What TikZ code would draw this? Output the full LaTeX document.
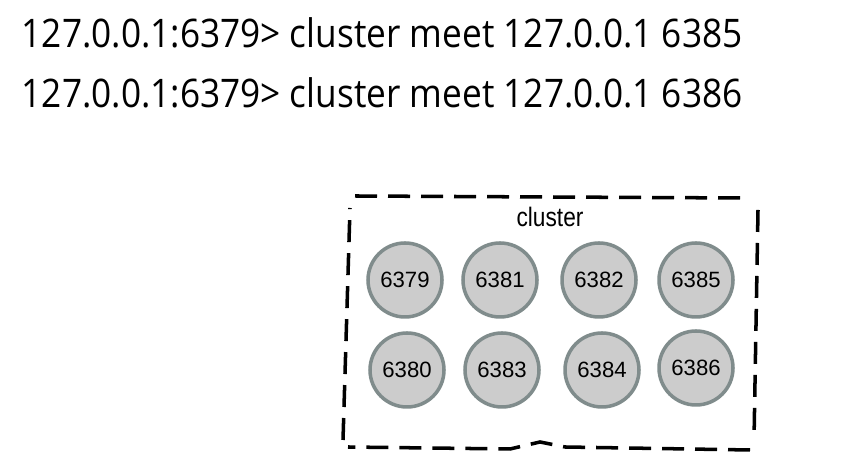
\documentclass[tikz,border=0pt]{standalone}
\usepackage{fontspec}
\setmainfont[FakeStretch=0.895]{Open Sans}
\newfontfamily\labelfont{Liberation Sans}
\newfontfamily\handfont[FakeStretch=0.85]{Liberation Sans}
\usepackage{xcolor}
\definecolor{nodefill}{RGB}{204,204,204}
\definecolor{noderim}{RGB}{128,140,140}
\tikzstyle{port}=[circle, draw=noderim, fill=nodefill, line width=1pt, minimum size=0.74cm, inner sep=0pt, font=\labelfont\fontsize{6.3}{7}\selectfont]
\tikzset{command/.style={anchor=base west, inner sep=0pt, font=\fontsize{11.2}{13}\selectfont}}
\tikzset{clusterbox/.style={line width=1pt, dash pattern=on 2.2mm off 1.1mm}}

\begin{document}
\begin{tikzpicture}
  \useasboundingbox[fill=white] (0,0) rectangle (8.49,-4.66);
  \draw (0.21,-0.475) node[command] (cmd1) {127.0.0.1:6379> cluster meet 127.0.0.1 6385};
  \draw (0.21,-1.075) node[command] (cmd2) {127.0.0.1:6379> cluster meet 127.0.0.1 6386};

  %% the cluster
  \draw[clusterbox] (3.55,-1.96) -- (7.43,-1.98)
    (7.58,-2.10) -- (7.54,-4.40)
    (7.50,-4.50) -- (5.65,-4.47) -- (5.40,-4.42) -- (5.10,-4.49) -- (3.48,-4.47)
    (3.43,-4.40) -- (3.50,-2.08);
  \draw (5.50,-2.17) node[font=\handfont\fontsize{7.6}{8}\selectfont] (clusterlabel) {cluster};

  \draw (4.05,-2.80) node[port] (P6379) {6379};
  \draw (5.00,-2.80) node[port] (P6381) {6381};
  \draw (5.99,-2.80) node[port] (P6382) {6382};
  \draw (6.96,-2.80) node[port] (P6385) {6385};

  \draw (4.07,-3.70) node[port] (P6380) {6380};
  \draw (5.02,-3.70) node[port] (P6383) {6383};
  \draw (6.02,-3.70) node[port] (P6384) {6384};
  \draw (6.96,-3.68) node[port] (P6386) {6386};
\end{tikzpicture}
\end{document}
